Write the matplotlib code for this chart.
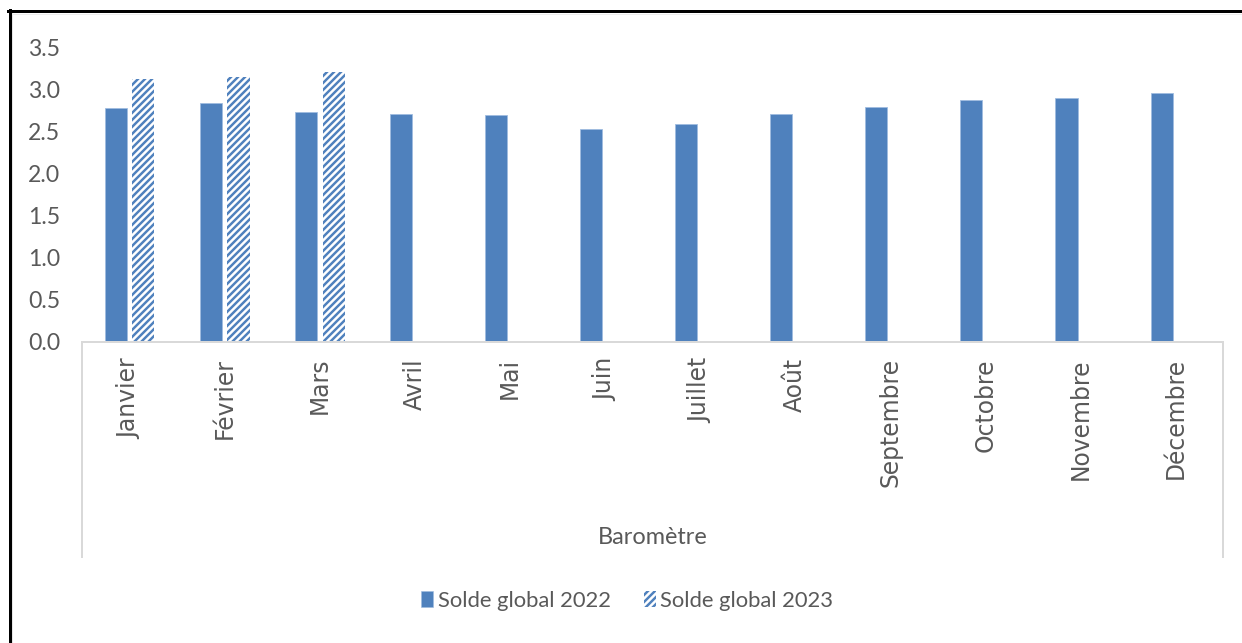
import matplotlib
matplotlib.use("Agg")
import matplotlib.pyplot as plt
import numpy as np
from matplotlib.patches import Patch
from matplotlib.lines import Line2D

months = ["Janvier", "Février", "Mars", "Avril", "Mai", "Juin", "Juillet",
          "Août", "Septembre", "Octobre", "Novembre", "Décembre"]
solde_2022 = [2.78, 2.84, 2.74, 2.72, 2.70, 2.53, 2.59, 2.72, 2.80, 2.88, 2.90, 2.97]
solde_2023 = [3.13, 3.15, 3.21]
yticks = [0.0, 0.5, 1.0, 1.5, 2.0, 2.5, 3.0, 3.5]
series_names = ["Solde global 2022", "Solde global 2023"]
axis_group_label = "Baromètre"

BLUE = "#4F81BD"
GRAY_TXT = "#595959"
LINE_GRAY = "#D9D9D9"
NARROW = ["Lato", "DejaVu Sans"]

DPI = 84
W, H = 1242, 643
PX = 72 / DPI
plt.rcParams["hatch.linewidth"] = 2.1

fig = plt.figure(figsize=(W / DPI, H / DPI), dpi=DPI)
fig.patch.set_facecolor("white")

# axes in pixel coords
x0, x1 = 82, 1223
y_top, y_bot = 48, 342
ax = fig.add_axes([x0 / W, 1 - y_bot / H, (x1 - x0) / W, (y_bot - y_top) / H])

x = np.arange(len(months))
bw = 0.232
off = 0.146
ax.bar(x - off, solde_2022, width=bw, color=BLUE, edgecolor="#9FBCE0",
       linewidth=0.7, zorder=2)
x23 = np.arange(len(solde_2023))
ax.bar(x23 + off, solde_2023, width=bw, color="white", edgecolor=BLUE,
       hatch="////", linewidth=0, zorder=2)

ax.set_xlim(-0.5, len(months) - 0.5)
ax.set_ylim(0, 3.5)
ax.set_yticks(yticks)
ax.set_yticklabels([f"{v:.1f}" for v in yticks], family=NARROW,
                   fontsize=23 * PX, color=GRAY_TXT)
ax.tick_params(axis="y", length=0, pad=22 * PX)
ax.set_xticks(x)
ax.set_xticklabels(months, rotation=90, family="DejaVu Sans",
                   fontsize=23.5 * PX, color=GRAY_TXT, va="top", ha="center")
ax.tick_params(axis="x", length=0, pad=16 * PX)

for s in ["left", "right", "top"]:
    ax.spines[s].set_visible(False)
ax.spines["bottom"].set_color(LINE_GRAY)
ax.spines["bottom"].set_linewidth(2 * PX)

# multi-level category box lines
for xp in (x0, x1):
    fig.add_artist(Line2D([xp / W, xp / W], [1 - y_bot / H, 1 - 557 / H],
                          color=LINE_GRAY, linewidth=2 * PX))

fig.text(652.5 / W, 1 - 537 / H, axis_group_label, ha="center", va="center",
         family=NARROW, fontsize=23.5 * PX, color=GRAY_TXT)

handles = [Patch(facecolor=BLUE, edgecolor="#9FBCE0", linewidth=0.5),
           Patch(facecolor="white", edgecolor=BLUE, hatch="////", linewidth=0)]
leg = fig.legend(handles, series_names, loc="center", ncol=2,
                 bbox_to_anchor=(627 / W, 1 - 601 / H), frameon=False,
                 prop={"family": NARROW, "size": 22 * PX},
                 handlelength=0.55, handleheight=0.75, handletextpad=0.2,
                 columnspacing=1.5, borderpad=0)
for t in leg.get_texts():
    t.set_color(GRAY_TXT)

# outer frame (left & top black line, light gray inner line)
fig.add_artist(Line2D([9.5 / W, 9.5 / W], [0, 1 - 10 / H], color="black",
                      linewidth=3 * PX))
fig.add_artist(Line2D([8 / W, 1], [1 - 11 / H, 1 - 11 / H], color="black",
                      linewidth=3 * PX))
fig.add_artist(Line2D([12 / W, 12 / W], [0, 1 - 13 / H], color="#E6E6E6",
                      linewidth=1 * PX))
fig.add_artist(Line2D([12 / W, 1], [1 - 13.5 / H, 1 - 13.5 / H], color="#EDEDED",
                      linewidth=1 * PX))

fig.savefig("out.png", dpi=DPI, facecolor="white")
